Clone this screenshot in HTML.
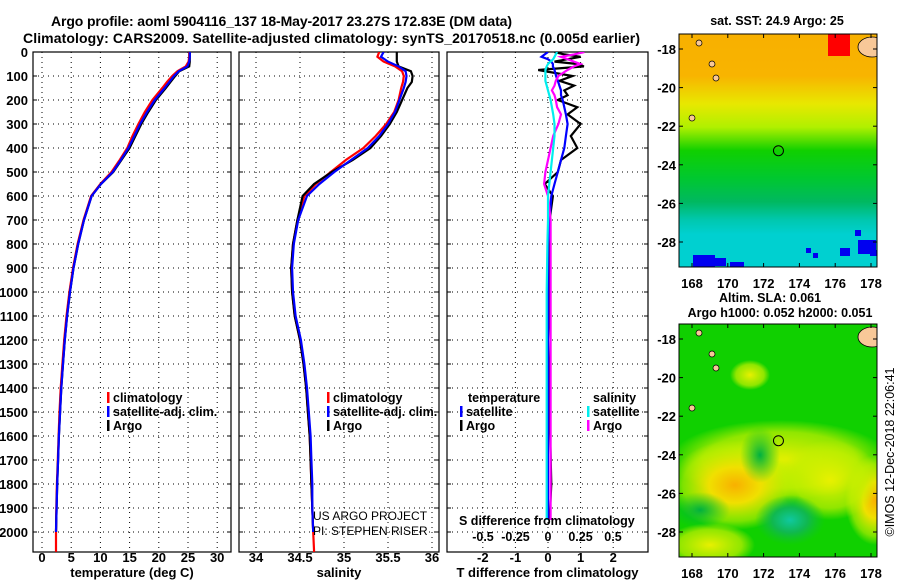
<!DOCTYPE html>
<html><head><meta charset="utf-8"><style>
body{margin:0;background:#fff;}
svg{display:block;font-family:"Liberation Sans",sans-serif;}
.b{font-weight:bold;}
</style></head><body>
<svg id="c" width="900" height="580" xmlns="http://www.w3.org/2000/svg">
<defs>
<clipPath id="cp1"><rect x="33" y="52" width="198" height="500"/></clipPath>
<clipPath id="cp2"><rect x="239" y="52" width="200" height="500"/></clipPath>
<clipPath id="cp3"><rect x="447" y="52" width="201" height="500"/></clipPath>
<clipPath id="m1"><rect x="679" y="34" width="198" height="233"/></clipPath>
<clipPath id="m2"><rect x="679" y="324" width="198" height="233"/></clipPath>
<linearGradient id="sst" x1="0" y1="0" x2="0" y2="1">
<stop offset="0" stop-color="#f8b000"/><stop offset="0.18" stop-color="#f8b400"/>
<stop offset="0.3" stop-color="#e8e800"/><stop offset="0.4" stop-color="#b0f000"/>
<stop offset="0.5" stop-color="#10d000"/><stop offset="0.62" stop-color="#00c830"/>
<stop offset="0.72" stop-color="#00b860"/><stop offset="0.8" stop-color="#00c8b0"/>
<stop offset="0.86" stop-color="#00d0d0"/><stop offset="1" stop-color="#00d0d0"/>
</linearGradient>
<radialGradient id="yb"><stop offset="0" stop-color="#f8b000"/><stop offset="0.4" stop-color="#f0e000"/><stop offset="0.8" stop-color="#c8f000" stop-opacity="0.6"/><stop offset="1" stop-color="#c8f000" stop-opacity="0"/></radialGradient>
<radialGradient id="yy"><stop offset="0" stop-color="#e8f000"/><stop offset="0.7" stop-color="#c8f000" stop-opacity="0.7"/><stop offset="1" stop-color="#c8f000" stop-opacity="0"/></radialGradient>
<radialGradient id="dg"><stop offset="0" stop-color="#10c8a0"/><stop offset="0.5" stop-color="#10b850"/><stop offset="1" stop-color="#10c030" stop-opacity="0"/></radialGradient>
<radialGradient id="dg2"><stop offset="0" stop-color="#00b040"/><stop offset="1" stop-color="#00c030" stop-opacity="0"/></radialGradient>
</defs>
<text class="b" x="51" y="26" font-size="14" textLength="461">Argo profile: aoml 5904116_137 18-May-2017 23.27S 172.83E (DM data)</text>
<text class="b" x="23" y="43" font-size="14" textLength="617">Climatology: CARS2009. Satellite-adjusted climatology: synTS_20170518.nc (0.005d earlier)</text>
<g id="plots"></g>
<g id="maps"></g>
</svg>
<script>
const depths=[0,20,40,60,80,100,125,150,200,250,300,350,400,450,500,550,600,700,800,900,1000,1100,1200,1300,1400,1500,1600,1700,1800,1900,2000,2083];
const tempArgo=[25.3,25.3,25.3,25.2,23.5,22.8,22.0,21.2,19.5,18.2,17.0,16.0,15.0,13.6,12.2,10.1,8.5,7.2,6.2,5.4,4.8,4.3,3.9,3.6,3.3,3.1,2.9,2.75,2.6,2.5,2.4];
const tempClim=[25.2,25.2,25.1,24.6,23.2,22.3,21.4,20.6,18.9,17.6,16.5,15.5,14.6,13.3,11.9,10.0,8.4,7.1,6.1,5.3,4.7,4.2,3.8,3.5,3.2,3.0,2.85,2.7,2.55,2.45,2.4,2.4];
const tempSat=[25.3,25.3,25.2,24.9,23.4,22.6,21.8,21.0,19.3,18.0,16.8,15.8,14.8,13.5,12.1,10.1,8.5,7.2,6.2,5.4,4.8,4.3,3.9,3.6,3.3,3.1,2.9,2.75,2.6,2.5,2.4];
const salArgo=[35.60,35.60,35.60,35.62,35.76,35.78,35.77,35.72,35.66,35.60,35.52,35.42,35.30,35.10,34.86,34.66,34.53,34.47,34.42,34.40,34.41,34.44,34.50,34.54,34.57,34.59,34.61,34.62,34.63,34.64,34.65];
const salClim=[35.40,35.38,35.45,35.58,35.66,35.68,35.67,35.65,35.62,35.57,35.48,35.36,35.22,35.02,34.85,34.68,34.55,34.47,34.42,34.40,34.41,34.44,34.50,34.54,34.57,34.59,34.61,34.62,34.63,34.64,34.65,34.66];
const salSat=[35.45,35.42,35.50,35.62,35.70,35.71,35.70,35.68,35.63,35.58,35.50,35.40,35.27,35.08,34.89,34.72,34.58,34.48,34.43,34.41,34.42,34.45,34.51,34.55,34.58,34.60,34.62,34.63,34.64,34.64,34.65];
const diffDepths=[0,10,20,30,40,50,60,75,100,120,140,160,180,200,230,260,300,350,400,450,500,550,600,700,800,1000,1200,1500,1800,1950];
const dTArgo=[0.2,0.5,1.0,0.6,0.2,0.9,1.1,-0.3,0.75,0.35,0.8,0.5,0.6,0.3,0.9,0.6,1.0,0.7,0.9,0.4,0.3,-0.1,0.15,0.05,0.05,0.05,0.0,0.05,0.1,0.05];
const dTSat=[0.0,-0.1,-0.2,0.0,0.1,0.15,0.15,0.2,0.25,0.3,0.35,0.4,0.4,0.45,0.5,0.55,0.6,0.55,0.5,0.4,0.3,0.2,0.1,0.05,0.0,0.0,0.0,0.0,0.0,0.0];
const dSArgo=[0.28,0.2,0.1,0.15,0.2,0.25,0.2,0.15,0.08,0.06,0.05,0.03,0.05,0.06,0.07,0.1,0.08,0.04,0.02,0.0,-0.02,-0.03,0.0,0.02,0.02,0.02,0.02,0.02,0.02,0.02];
const dSSat=[0.07,0.06,0.05,0.04,0.02,0.0,-0.01,-0.02,-0.02,-0.02,-0.01,0.0,0.01,0.02,0.03,0.04,0.05,0.05,0.04,0.03,0.02,0.01,0.0,0.0,-0.005,-0.01,-0.01,-0.01,-0.01,-0.01];
const depthTicks=[0,100,200,300,400,500,600,700,800,900,1000,1100,1200,1300,1400,1500,1600,1700,1800,1900,2000];
const tempTicks=[0,5,10,15,20,25,30];
const salTicks=[34,34.5,35,35.5,36];
const dTTicks=[-2,-1,0,1,2];
const dSTicks=[-0.5,-0.25,0,0.25,0.5];
const latTicks=[-18,-20,-22,-24,-26,-28];
const lonTicks=[168,170,172,174,176,178];

const NS="http://www.w3.org/2000/svg";
const P=document.getElementById('plots'), M=document.getElementById('maps');
function el(t,a,p){const e=document.createElementNS(NS,t);for(const k in a)e.setAttribute(k,a[k]);(p||P).appendChild(e);return e;}
const yD=d=>52+d*0.24;
const xT=t=>42+t*5.84;
const xS=s=>256+(s-34)*88;
const xDT=t=>548+t*32.6;
const xDS=s=>548+s*130;

const panels=[{x0:33,x1:231,ticks:tempTicks,f:xT,lab:t=>String(t),title:'temperature (deg C)',name:'temperature',cp:'cp1'},
{x0:239,x1:439,ticks:salTicks,f:xS,lab:t=>String(t),title:'salinity',name:'salinity',cp:'cp2'},
{x0:447,x1:648,ticks:dTTicks,f:xDT,lab:t=>String(t),title:'T difference from climatology',name:'diff',cp:'cp3'}];
panels.forEach(p=>{
  const g=el('g',{});
  
  
  depthTicks.forEach(d=>{if(d>0){const l=el('line',{x1:p.x0,x2:p.x1,y1:yD(d),y2:yD(d),stroke:'#000','stroke-dasharray':'1,4','stroke-width':1},g);
    }
    el('line',{x1:p.x1-4,x2:p.x1,y1:yD(d),y2:yD(d),stroke:'#000'},g);
    el('line',{x1:p.x0,x2:p.x0+4,y1:yD(d),y2:yD(d),stroke:'#000'},g);});
  p.ticks.forEach(t=>{const x=p.f(t);
    const l=el('line',{x1:x,x2:x,y1:52,y2:552,stroke:'#000','stroke-dasharray':'1,4'},g);
    
    const tx=el('text',{x:x,y:562,'font-size':13,'text-anchor':'middle',class:'b'},g);tx.textContent=p.lab(t);
    });
  const r=el('rect',{x:p.x0,y:52,width:p.x1-p.x0,height:500,fill:'none',stroke:'#000','stroke-width':1.2},g);
  
  const tt=el('text',{x:(p.x0+p.x1)/2,y:577,'font-size':13,'text-anchor':'middle',class:'b'},g);tt.textContent=p.title;
  
});
depthTicks.forEach(d=>{const t=el('text',{x:28,y:yD(d)+5,'font-size':13,'text-anchor':'end',class:'b'});t.textContent=d;
  });

function line(xs,ds,fx,color,cp,name){
  const pts=xs.map((v,i)=>fx(v).toFixed(1)+','+yD(ds[i]).toFixed(1)).join(' ');
  const l=el('polyline',{points:pts,fill:'none',stroke:color,'stroke-width':2.2,'clip-path':'url(#'+cp+')'});
  
  
}
line(tempClim,depths,xT,'#f00','cp1','temp-climatology-line');
line(tempArgo,depths,xT,'#000','cp1','temp-argo-line');
line(tempSat,depths,xT,'#00f','cp1','temp-satellite-line');
line(salClim,depths,xS,'#f00','cp2','sal-climatology-line');
line(salArgo,depths,xS,'#000','cp2','sal-argo-line');
line(salSat,depths,xS,'#00f','cp2','sal-satellite-line');
line(dTArgo,diffDepths,xDT,'#000','cp3','dT-argo-line');
line(dTSat,diffDepths,xDT,'#00f','cp3','dT-satellite-line');
line(dSArgo,diffDepths,xDS,'#f0f','cp3','dS-argo-line');
line(dSSat,diffDepths,xDS,'#0ee','cp3','dS-satellite-line');

function txt(x,y,s,fs,bold,name,anchor,g){const t=el('text',{x:x,y:y,'font-size':fs,'text-anchor':anchor||'start'},g);if(bold)t.setAttribute('class','b');t.textContent=s;
  return t;}
function leg(x,y,c,s,name){const r=el('rect',{x:x,y:y-10,width:2.5,height:11,fill:c});
  
  if(s)txt(x+6,y,s,12.5,true,name);}
leg(107,402,'#f00','climatology','legend-climatology');
leg(107,416,'#00f','satellite-adj. clim.','legend-satellite-adj');
leg(107,430,'#000','Argo','legend-argo');
leg(327,402,'#f00','climatology','legend2-climatology');
leg(327,416,'#00f','satellite-adj. clim.','legend2-satellite-adj');
leg(327,430,'#000','Argo','legend2-argo');
txt(468,402,'temperature',12.5,true,'legend-temperature-heading');
leg(460,416,'#00f','satellite','legend-t-satellite');
leg(460,430,'#000','Argo','legend-t-argo');
txt(593,402,'salinity',12.5,true,'legend-salinity-heading');
leg(587,416,'#0ee','satellite','legend-s-satellite');
leg(587,430,'#f0f','Argo','legend-s-argo');
const g2=el('g',{'clip-path':'url(#cp2)'});
txt(313,520,'US ARGO PROJECT',12,false,'project-credit','start',g2);
txt(313,535,'PI: STEPHEN RISER',12,false,'pi-credit','start',g2);
txt(459,525,'S difference from climatology',12.5,true,'s-axis-title');
dSTicks.forEach(s=>txt(xDS(s),541,String(s),12.5,true,'s-tick-label','middle'));

// maps
const maps=[{y0:34,name:'sst-map'},{y0:324,name:'sla-map'}];
const xL=l=>692+(l-168)*17.9;
maps.forEach((m,i)=>{
  const yL=la=>m.y0+15+(-18-la)*19.3;
  const g=el('g',{'clip-path':'url(#m'+(i+1)+')'},M);
  
  if(i===0){
    el('rect',{x:679,y:34,width:198,height:233,fill:'url(#sst)'},g);
    el('rect',{x:828,y:34,width:22,height:22,fill:'#f00'},g);
    [[858,240,18,14],[840,248,10,8],[693,255,22,12],[712,258,14,8],[730,262,14,8],[855,230,6,6],[806,248,5,5],[813,253,5,5],[870,250,8,6]].forEach(b=>el('rect',{x:b[0],y:b[1],width:b[2],height:b[3],fill:'#0000f0'},g));
  } else {
    el('rect',{x:679,y:324,width:198,height:233,fill:'#10d000'},g);
    el('ellipse',{cx:780,cy:460,rx:110,ry:40,fill:'url(#yy)'},g);
    el('ellipse',{cx:735,cy:485,rx:65,ry:45,fill:'url(#yb)'},g);
    el('ellipse',{cx:875,cy:500,rx:30,ry:45,fill:'url(#yb)'},g);
    el('ellipse',{cx:830,cy:480,rx:50,ry:40,fill:'url(#yy)'},g);
    el('ellipse',{cx:710,cy:545,rx:45,ry:22,fill:'url(#yy)'},g);
    el('ellipse',{cx:760,cy:455,rx:20,ry:28,fill:'url(#dg2)'},g);
    el('ellipse',{cx:790,cy:520,rx:35,ry:25,fill:'url(#dg)'},g);
    el('ellipse',{cx:700,cy:510,rx:30,ry:18,fill:'url(#dg2)'},g);
    el('ellipse',{cx:750,cy:375,rx:20,ry:15,fill:'url(#yy)'},g);
  }
  el('ellipse',{cx:872,cy:m.y0+13,rx:14,ry:10,fill:'#f8c898',stroke:'#000','stroke-width':0.8},g);
  [[699,m.y0+9],[712,m.y0+30],[716,m.y0+44],[692,m.y0+84]].forEach(p=>el('ellipse',{cx:p[0],cy:p[1],rx:3,ry:3,fill:'#f8c898',stroke:'#000','stroke-width':0.7},g));
  const c=el('circle',{cx:xL(172.83),cy:yL(-23.27),r:5,fill:'none',stroke:'#000','stroke-width':1},M);
  
  const fr=el('rect',{x:679,y:m.y0,width:198,height:233,fill:'none',stroke:'#000','stroke-width':1},M);
  
  latTicks.forEach(la=>{const y=yL(la);el('line',{x1:679,x2:683,y1:y,y2:y,stroke:'#000'},M);el('line',{x1:873,x2:877,y1:y,y2:y,stroke:'#000'},M);
    txt(676,y+5,String(la),13,true,'lat-tick-label','end',M);});
  lonTicks.forEach(lo=>{const x=xL(lo);el('line',{x1:x,x2:x,y1:m.y0,y2:m.y0+4,stroke:'#000'},M);el('line',{x1:x,x2:x,y1:m.y0+229,y2:m.y0+233,stroke:'#000'},M);
    txt(x,m.y0+254,String(lo),13,true,'lon-tick-label','middle',M);});
});
txt(777,25,'sat. SST: 24.9 Argo: 25',12.5,true,'sst-map-title','middle',M);
txt(770,302,'Altim. SLA: 0.061',12.5,true,'sla-map-title','middle',M);
txt(780,317,'Argo h1000: 0.052 h2000: 0.051',12.5,true,'sla-map-subtitle','middle',M);
const v=txt(0,0,'©IMOS 12-Dec-2018 22:06:41',12.5,false,'imos-timestamp','middle',M);
v.setAttribute('transform','translate(894,452) rotate(-90)');
</script>
</body></html>
